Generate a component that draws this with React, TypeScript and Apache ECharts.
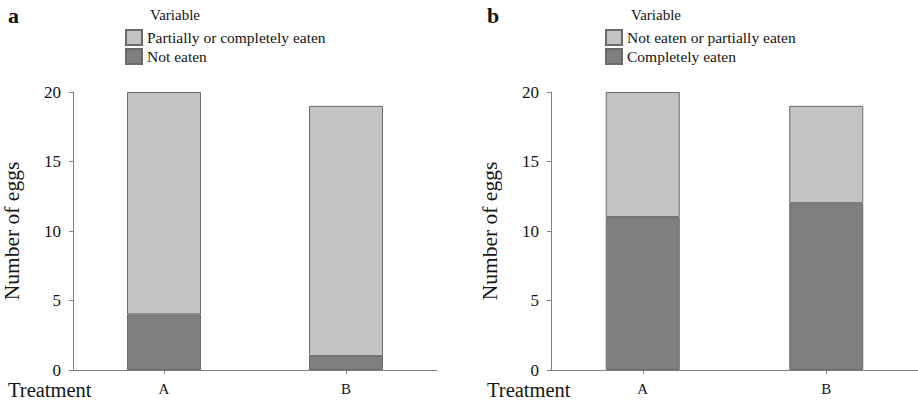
import React, { useEffect, useRef } from "react";
import * as echarts from "echarts";

const categories = ["A", "B"];
const yTicks = [0, 5, 10, 15, 20];

// Panel a
const aBottomName = "Not eaten";
const aTopName = "Partially or completely eaten";
const aBottom = [4, 1];
const aTop = [16, 18];

// Panel b
const bBottomName = "Completely eaten";
const bTopName = "Not eaten or partially eaten";
const bBottom = [11, 12];
const bTop = [9, 7];

const LIGHT = "#c3c3c3";
const DARK = "#7f7f7f";
const BORDER = "#6a6a6a";
const AXIS = "#808080";
const TEXT = "#141414";
const FONT = "Liberation Serif";

export default function App() {
  const ref = useRef<HTMLDivElement>(null);
  useEffect(() => {
    if (!ref.current) return;
    const chart = echarts.init(ref.current, undefined, { renderer: "svg" });
    const grids = [
      { left: 71, right: 481, top: 92, bottom: 30 },
      { left: 551, right: 0, top: 92, bottom: 30 },
    ];
    const xAxis = grids.map((_, i) => ({
      type: "category",
      gridIndex: i,
      data: categories,
      axisLine: { lineStyle: { color: AXIS, width: 1 } },
      axisTick: { show: true, alignWithLabel: true, length: 4, lineStyle: { color: AXIS } },
      axisLabel: { color: TEXT, fontFamily: FONT, fontSize: 15, margin: 11 },
    }));
    const yAxis = grids.map((_, i) => ({
      type: "value",
      gridIndex: i,
      min: 0,
      max: 20,
      interval: 5,
      name: "Number of eggs",
      nameLocation: "middle",
      nameGap: 50,
      nameTextStyle: { color: TEXT, fontFamily: FONT, fontSize: 21.5 },
      axisLine: { show: true, lineStyle: { color: AXIS, width: 1 } },
      axisTick: { show: true, length: 4, lineStyle: { color: AXIS } },
      splitLine: { show: false },
      axisLabel: {
        color: TEXT,
        fontFamily: FONT,
        fontSize: 17,
        margin: 12,
        formatter: (v: number) => (yTicks.includes(v) ? String(v) : ""),
      },
    }));
    const mk = (name: string, data: number[], color: string, idx: number, stack: string) => ({
      type: "bar",
      name,
      data,
      xAxisIndex: idx,
      yAxisIndex: idx,
      stack,
      barWidth: 74,
      itemStyle: { color, borderColor: BORDER, borderWidth: 1 },
    });
    const legendCommon = {
      orient: "vertical",
      itemWidth: 16,
      itemHeight: 15,
      itemGap: 2,
      top: 29,
      padding: 0,
      icon: "rect",
      textStyle: { color: TEXT, fontFamily: FONT, fontSize: 15.5 },
    };
    const txt = (text: string, left: number, top: number, size: number, bold = false) => ({
      type: "text",
      left,
      top,
      style: {
        text,
        fontFamily: FONT,
        fontSize: size,
        lineHeight: size,
        fontWeight: bold ? "bold" : "normal",
        fill: TEXT,
      },
    });
    chart.setOption({
      animation: false,
      grid: grids,
      xAxis,
      yAxis,
      legend: [
        { ...legendCommon, left: 125, data: [aTopName, aBottomName] },
        { ...legendCommon, left: 605, data: [bTopName, bBottomName] },
      ],
      series: [
        mk(aBottomName, aBottom, DARK, 0, "a"),
        mk(aTopName, aTop, LIGHT, 0, "a"),
        mk(bBottomName, bBottom, DARK, 1, "b"),
        mk(bTopName, bTop, LIGHT, 1, "b"),
      ],
      graphic: [
        txt("a", 8, 4, 22, true),
        txt("b", 487, 4, 22, true),
        txt("Variable", 150, 7, 15),
        txt("Variable", 631, 7, 15),
        txt("Treatment", 8, 379.5, 20.5),
        txt("Treatment", 487, 379.5, 20.5),
      ],
    });
    return () => chart.dispose();
  }, []);
  return <div ref={ref} style={{ width: 918, height: 400, position: "absolute", left: 0, top: 0 }} />;
}
